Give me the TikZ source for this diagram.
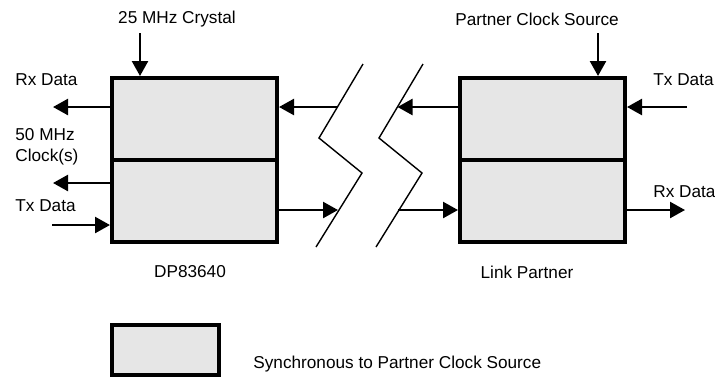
\documentclass[tikz,border=0pt]{standalone}
\usepackage{fontspec}
\setmainfont{Liberation Sans}
\usepackage{xcolor}
\usepackage{tikz}
\usetikzlibrary{arrows.meta}
\definecolor{boxgray}{RGB}{230,230,230}
\tikzset{
  chipbox/.style={draw, line width=2pt, fill=boxgray, minimum width=82.5pt, minimum height=82pt, inner sep=0pt},
  sig/.style={line width=1.2pt, -{Triangle[length=7.5pt,width=8pt]}},
  brk/.style={line width=0.7pt},
  lbl/.style={inner sep=0pt, font=\fontsize{8.6}{10.4}\selectfont}
}
\begin{document}
\begin{tikzpicture}[x=0.5pt,y=-0.5pt]
            \useasboundingbox (0,0) rectangle (715,377);
            %绘制两个芯片方框和中间的分隔线
            \node[chipbox] (dp) at (194.5,160) {};
            \node[chipbox] (lp) at (542.5,160) {};
            \draw[line width=2pt] (dp.west |- 0,160) -- (dp.east |- 0,160);
            \draw[line width=2pt] (lp.west |- 0,160) -- (lp.east |- 0,160);
            %绘制图例方框
            \node[chipbox, minimum width=53.5pt, minimum height=25pt] (key) at (165.5,350) {};
            %绘制线路中断的折线
            \foreach \d in {0,60}{\draw[brk] (363+\d,64) -- (319+\d,138) -- (362+\d,173) -- (316+\d,247);}
            \coordinate (za) at (337.5,107);
            \coordinate (zb) at (397.5,107);
            \coordinate (zc) at (338,210);
            \coordinate (zd) at (398,210);
            %绘制文字
            \node[lbl] (xtal) at (177,19) {25 MHz Crystal};
            \node[lbl, anchor=west] (rxl) at (15,80) {Rx Data};
            \node[lbl, anchor=west, align=left] (clk) at (15,147) {50 MHz\\Clock(s)};
            \node[lbl, anchor=west] (txl) at (15,206) {Tx Data};
            \node[lbl] (dpname) at (190,272) {DP83640};
            \node[lbl] (pcs) at (537,19) {Partner Clock Source};
            \node[lbl, anchor=west] (txr) at (653,80) {Tx Data};
            \node[lbl, anchor=west] (rxr) at (653,192) {Rx Data};
            \node[lbl] (lpname) at (527,272) {Link Partner};
            \node[lbl, anchor=west] (keytext) at (253,364) {Synchronous to Partner Clock Source};
            %绘制箭头
            \coordinate (xtalin) at (140,33);
            \coordinate (pcsin) at (598,33);
            \coordinate (rxlout) at (53,107);
            \coordinate (clkout) at (53,183);
            \coordinate (txlin) at (52,225);
            \coordinate (txrin) at (687,107);
            \coordinate (rxrout) at (685,210);
            \draw[sig] (xtalin) -- (xtalin |- dp.north);
            \draw[sig] (pcsin) -- (pcsin |- lp.north);
            \draw[sig] (dp.west |- rxlout) -- (rxlout);
            \draw[sig] (dp.west |- clkout) -- (clkout);
            \draw[sig] (txlin) -- (dp.west |- txlin);
            \draw[sig] (txrin) -- (lp.east |- txrin);
            \draw[sig] (lp.east |- rxrout) -- (rxrout);
            \draw[sig] (za) -- (dp.east |- za);
            \draw[sig] (lp.west |- zb) -- (zb);
            \draw[sig] (dp.east |- zc) -- (zc);
            \draw[sig] (zd) -- (lp.west |- zd);
        \end{tikzpicture}
\end{document}
